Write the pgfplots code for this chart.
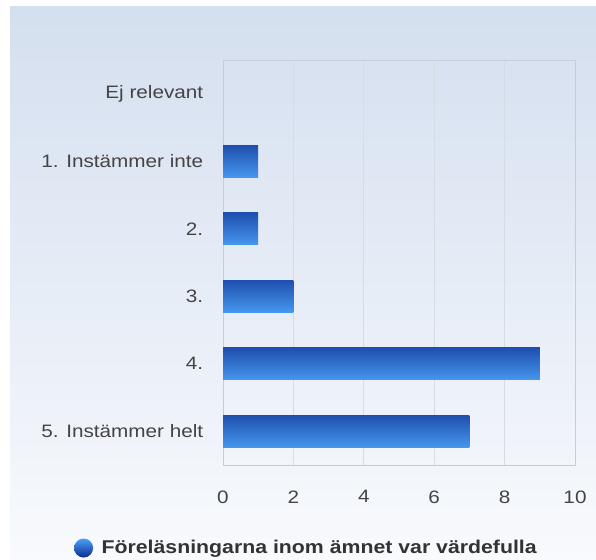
\documentclass[border=0pt]{standalone}
\usepackage{fontspec}
\setmainfont[FakeStretch=1.15]{Liberation Sans}
\usepackage{pgfplots}
\pgfplotsset{compat=1.18}

\definecolor{paneltop}{HTML}{D4DFEF}
\definecolor{panelbot}{HTML}{F8FAFD}
\definecolor{framecol}{HTML}{C6CDD7}
\definecolor{gridcol}{HTML}{D6DCE4}
\definecolor{txt}{HTML}{444444}
\definecolor{legtxt}{HTML}{333333}
\definecolor{bardark}{HTML}{0B2C8F}
\definecolor{barlight}{HTML}{4BA0F7}
\definecolor{barbot}{HTML}{2F72D4}

\pgfdeclareverticalshading{barshade}{100bp}{color(0bp)=(barbot); color(18bp)=(barlight); color(100bp)=(bardark)}

\begin{document}
\begin{tikzpicture}[x=1pt,y=1pt]
\path[use as bounding box] (0,0) rectangle (596,-559);
\fill[white] (0,0) rectangle (596,-559);
\shade[top color=paneltop, bottom color=panelbot] (10,-7) rectangle (596,-559);
\begin{axis}[
	at={(223pt,-465pt)}, anchor=south west,
	scale only axis,
	width=352pt, height=405pt,
	xbar, bar width=32pt, bar shift=0pt,
	xmin=0, xmax=10,
	ymin=-0.5, ymax=5.5,
	xtick={0,2,...,10},
	ytick={0,...,5},
	yticklabels={5. Instämmer helt, 4., 3., 2., 1. Instämmer inte, Ej relevant},
	/pgf/number format/assume math mode=true,
	ticklabel style={font=\fontsize{18}{20}\selectfont, text=txt},
	xticklabel style={yshift=-22pt},
	yticklabel style={xshift=-12pt},
	major tick style={draw=none},
	axis line style={framecol},
	xmajorgrids, grid style={gridcol, line width=0.8pt},
	every axis plot/.append style={draw=none, shading=barshade},
	legend style={at={(0.237,-0.205)}, anchor=center, draw=none, fill=none,
		font=\fontsize{18.5}{20}\selectfont\bfseries, text=legtxt},
	legend image code/.code={\node[circle, minimum size=19pt, inner sep=0pt, draw=none,
		shading=axis, left color=barlight, right color=bardark, shading angle=0] at (-3pt,0) {};
		\path (-12pt,0) (13pt,0);},
]
% one series per bar, so that each bar gets its own gradient
\addplot coordinates {(7,0)};
\addplot+[forget plot] coordinates {(9,1)};
\addplot+[forget plot] coordinates {(2,2)};
\addplot+[forget plot] coordinates {(1,3)};
\addplot+[forget plot] coordinates {(1,4)};
\legend{Föreläsningarna inom ämnet var värdefulla}
\end{axis}
\end{tikzpicture}
\end{document}
